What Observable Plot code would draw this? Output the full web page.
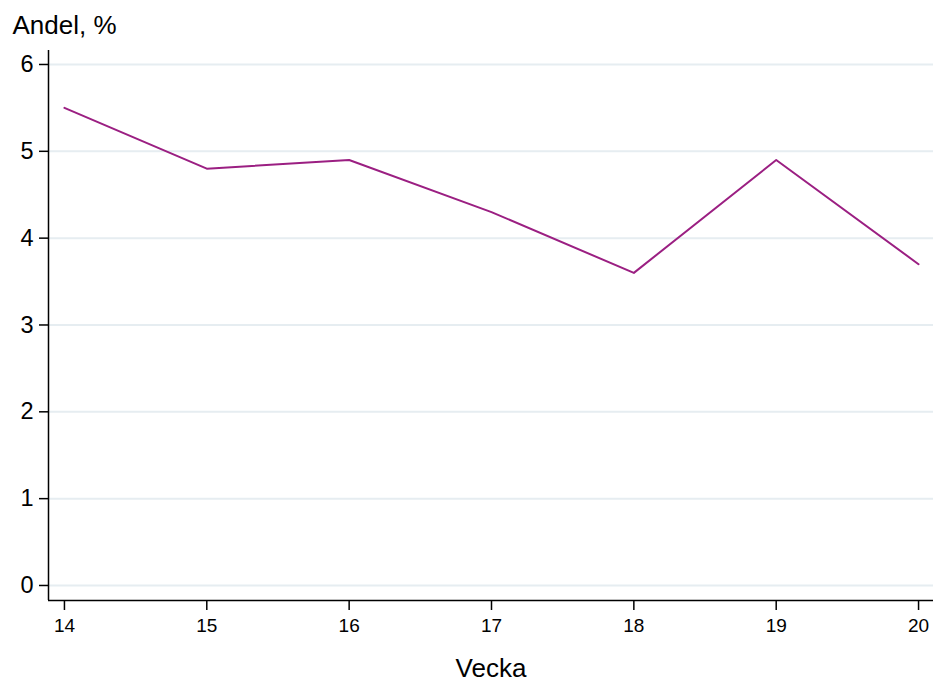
<!DOCTYPE html>
<html>
<head>
<meta charset="utf-8">
<script src="https://cdn.jsdelivr.net/npm/d3@7"></script>
<script src="https://cdn.jsdelivr.net/npm/@observablehq/plot@0.6"></script>
<style>
  html, body { margin: 0; padding: 0; background: #fff; }
  #chart svg { display: block; }
</style>
</head>
<body>
<div id="chart"></div>
<script>
const weeks = [14, 15, 16, 17, 18, 19, 20];
const shares = [5.5, 4.8, 4.9, 4.3, 3.6, 4.9, 3.7];
const yTicks = [0, 1, 2, 3, 4, 5, 6];
const xTicks = [14, 15, 16, 17, 18, 19, 20];
const yTitle = "Andel, %";
const xTitle = "Vecka";

const data = weeks.map((w, i) => ({week: w, share: shares[i]}));
const font = "Liberation Sans, Arial, Helvetica, sans-serif";

const chart = Plot.plot({
  width: 935,
  height: 682,
  marginLeft: 48,
  marginRight: 2,
  marginTop: 50,
  marginBottom: 82,
  style: {fontFamily: font, color: "#000", background: "#fff"},
  x: {domain: [13.888, 20.105]},
  y: {domain: [-0.173, 6.161]},
  marks: [
    Plot.gridY(yTicks, {stroke: "#e6edf1", strokeOpacity: 1, strokeWidth: 2}),
    Plot.ruleX([13.888], {stroke: "#000", strokeWidth: 1.5}),
    Plot.ruleY([-0.173], {stroke: "#000", strokeWidth: 1.5}),
    Plot.axisY(yTicks, {tickSize: 9, tickPadding: 6, fontSize: 23.5, tickFormat: "d", label: null, stroke: "#000", strokeWidth: 1.5, color: "#000"}),
    Plot.axisX(xTicks, {tickSize: 10, tickPadding: 8, fontSize: 19, tickFormat: "d", label: null, stroke: "#000", strokeWidth: 1.5, color: "#000"}),
    Plot.line(data, {x: "week", y: "share", stroke: "#9b1f82", strokeWidth: 2}),
    Plot.text([yTitle], {frameAnchor: "top-left", dx: -36, dy: -17, lineAnchor: "bottom", textAnchor: "start", fontSize: 26, fill: "#000"}),
    Plot.text([xTitle], {frameAnchor: "bottom", dy: 76, lineAnchor: "bottom", fontSize: 26, fill: "#000"})
  ]
});
document.getElementById("chart").appendChild(chart);
</script>
</body>
</html>
